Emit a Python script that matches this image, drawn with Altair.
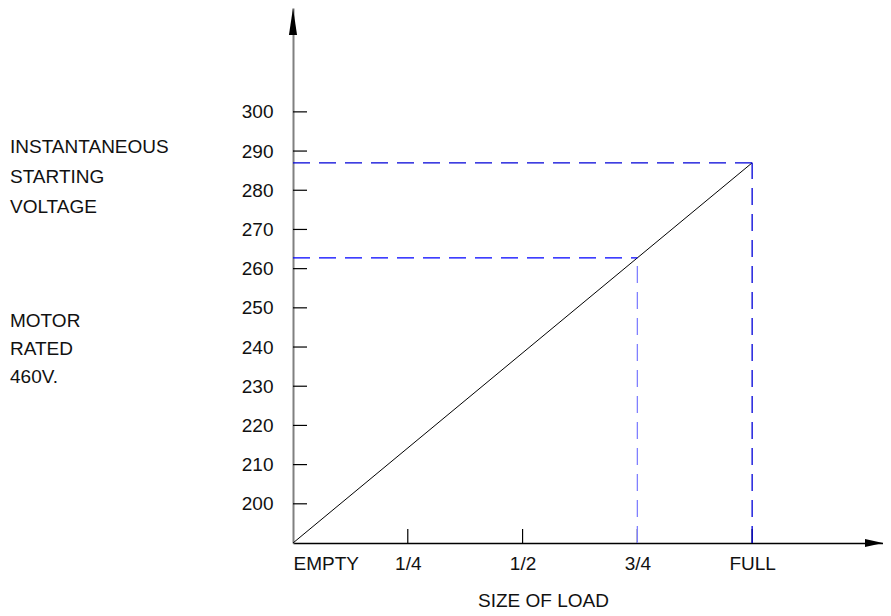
import altair as alt
import pandas as pd

# ---- data ----
x_tick_values = [0, 0.25, 0.5, 0.75, 1.0]
x_tick_labels = ["EMPTY", "1/4", "1/2", "3/4", "FULL"]
x_tick_marks = [0.25, 0.5, 0.75, 1.0]
y_tick_values = [200, 210, 220, 230, 240, 250, 260, 270, 280, 290, 300]

line_load = [0.0, 1.0]
line_volt = [190, 287]

full_load = 1.0
full_volt = 287
three_q_load = 0.75
three_q_volt = 262.75

x_domain = [0, 1.285]
y_domain = [190, 326.5]

left_text_1 = ["INSTANTANEOUS", "STARTING", "VOLTAGE"]
left_text_2 = ["MOTOR", "RATED", "460V."]
x_title = "SIZE OF LOAD"

FONT = "Liberation Sans"
FS = 19
W, H = 590, 535

xs = alt.Scale(domain=x_domain, nice=False, zero=False)
ys = alt.Scale(domain=y_domain, nice=False, zero=False)

label_expr = "{" + ",".join(f"'{v:g}':'{l}'" for v, l in zip(x_tick_values, x_tick_labels)) + "}[datum.value]"

base_line = pd.DataFrame({"load": line_load, "volt": line_volt})

# Axes (labels + domain lines) carried by an invisible layer
axes_layer = alt.Chart(base_line).mark_point(opacity=0).encode(
    x=alt.X("load:Q", scale=xs,
            axis=alt.Axis(values=x_tick_values, labelExpr=label_expr, ticks=False, grid=False,
                          domainColor="#000000", domainWidth=1.3, labelFont=FONT, labelFontSize=FS,
                          labelColor="#111111", labelPadding=11, title=x_title, titleFont=FONT,
                          titleFontSize=FS, titleFontWeight="normal", titleColor="#111111",
                          titleX=250, titleY=57, titleBaseline="middle", titleAnchor="middle")),
    y=alt.Y("volt:Q", scale=ys,
            axis=alt.Axis(values=y_tick_values, ticks=False, grid=False, domainColor="#808080",
                          domainWidth=2, labelFont=FONT, labelFontSize=FS, labelColor="#111111",
                          labelPadding=20, title=None)),
)

# Y ticks (pointing right, inside)
ytick_df = pd.DataFrame({"volt": y_tick_values})
y_ticks = alt.Chart(ytick_df).mark_rule(color="#000000", strokeWidth=1.2).encode(
    y=alt.Y("volt:Q", scale=ys), x=alt.value(0), x2=alt.value(14))

# X ticks (pointing up)
xtick_df = pd.DataFrame({"load": x_tick_marks})
x_ticks = alt.Chart(xtick_df).mark_rule(color="#000000", strokeWidth=1.2).encode(
    x=alt.X("load:Q", scale=xs), y=alt.value(H), y2=alt.value(H - 14))

# Main line
main_line = alt.Chart(base_line).mark_line(color="#000000", strokeWidth=1).encode(
    x=alt.X("load:Q", scale=xs), y=alt.Y("volt:Q", scale=ys))

DASH = [17, 9]

def hseg(load, volt, color):
    df = pd.DataFrame({"x0": [0.0], "x1": [load], "v": [volt]})
    return alt.Chart(df).mark_rule(color=color, strokeWidth=1.3, strokeDash=DASH).encode(
        x=alt.X("x0:Q", scale=xs), x2="x1:Q", y=alt.Y("v:Q", scale=ys))

def vseg(load, volt, color):
    df = pd.DataFrame({"l": [load], "y0": [y_domain[0]], "y1": [volt]})
    return alt.Chart(df).mark_rule(color=color, strokeWidth=1.3, strokeDash=DASH).encode(
        x=alt.X("l:Q", scale=xs), y=alt.Y("y0:Q", scale=ys), y2="y1:Q")

full_h = hseg(full_load, full_volt, "#0000d8")
full_v = vseg(full_load, full_volt, "#0000d8")
tq_h = hseg(three_q_load, three_q_volt, "#0000ff")
tq_v = vseg(three_q_load, three_q_volt, "#8080ff")

# Arrow heads
top_arrow = alt.Chart(pd.DataFrame({"l": [x_domain[0]], "v": [y_domain[1]]})).mark_point(
    shape="M0,0 L0.3,2 L-0.3,2 Z", size=729, filled=True, color="#000000", opacity=1).encode(
    x=alt.X("l:Q", scale=xs), y=alt.Y("v:Q", scale=ys))
right_arrow = alt.Chart(pd.DataFrame({"l": [x_domain[1]], "v": [y_domain[0]]})).mark_point(
    shape="M0,0 L-2,-0.45 L-2,0.45 Z", size=324, filled=True, color="#000000", opacity=1).encode(
    x=alt.X("l:Q", scale=xs), y=alt.Y("v:Q", scale=ys))

# Left annotations
txt1 = alt.Chart(pd.DataFrame({"d": [0]})).mark_text(
    align="left", baseline="alphabetic", font=FONT, fontSize=FS, lineHeight=29.75, color="#111111").encode(
    text=alt.value(left_text_1), x=alt.value(-283), y=alt.value(145))
txt2 = alt.Chart(pd.DataFrame({"d": [0]})).mark_text(
    align="left", baseline="alphabetic", font=FONT, fontSize=FS, lineHeight=28, color="#111111").encode(
    text=alt.value(left_text_2), x=alt.value(-283), y=alt.value(319))

chart = alt.layer(
    axes_layer, y_ticks, x_ticks, main_line, full_h, full_v, tq_h, tq_v,
    top_arrow, right_arrow, txt1, txt2
).properties(
    width=W, height=H,
    autosize=alt.AutoSizeParams(type="none"),
    padding={"left": 285, "top": 0, "right": 0, "bottom": 72},
    background="#ffffff",
).configure_view(strokeWidth=0, stroke="transparent")

chart.save("out.html", embed_options={"renderer": "svg", "actions": False})
